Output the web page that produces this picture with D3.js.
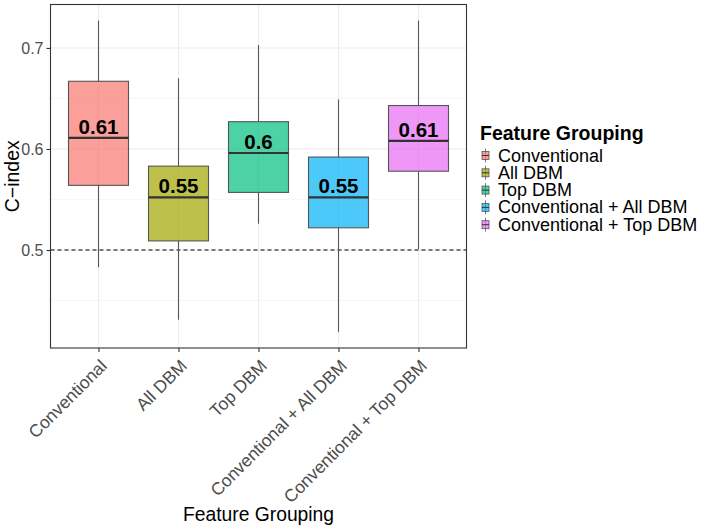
<!DOCTYPE html>
<html>
<head>
<meta charset="utf-8">
<script src="https://cdn.jsdelivr.net/npm/d3@7"></script>
<style>
  body { margin: 0; background: #fff; }
  text { font-family: "Liberation Sans", Arial, sans-serif; }
</style>
</head>
<body>
<script>
// box stats
var groups = ['Conventional', 'All DBM', 'Top DBM', 'Conventional + All DBM', 'Conventional + Top DBM'];
var colors = ['#F8766D', '#A3A500', '#00BF7D', '#00B0F6', '#E76BF3'];
var lowWhisker = [0.483, 0.431, 0.526, 0.419, 0.501];
var q1 = [0.564, 0.509, 0.557, 0.522, 0.578];
var median = [0.611, 0.552, 0.596, 0.552, 0.608];
var q3 = [0.667, 0.583, 0.627, 0.592, 0.643];
var highWhisker = [0.727, 0.670, 0.703, 0.649, 0.727];
var medianLabels = ['0.61', '0.55', '0.6', '0.55', '0.61'];
var yTicks = [0.5, 0.6, 0.7];
var yMinor = [0.45, 0.55, 0.65];

var W = 706, H = 530;
var panel = { left: 50.5, right: 466.5, top: 4.5, bottom: 348 };

var svg = d3.select('body').append('svg').attr('width', W).attr('height', H);

var y = d3.scaleLinear().domain([0.403, 0.743]).range([panel.bottom, panel.top]);
// ggplot-ish discrete scale: positions 1..5 with 0.6 padding
var x = d3.scaleLinear().domain([0.4, groups.length + 0.6]).range([panel.left, panel.right]);
var boxW = x(0.75) - x(0);

var pw = panel.right - panel.left;

// grid
svg.selectAll('.minor').data(yMinor).enter().append('line')
  .attr('x1', panel.left).attr('x2', panel.right)
  .attr('y1', function(d) { return y(d); }).attr('y2', function(d) { return y(d); })
  .attr('stroke', '#F2F2F2').attr('stroke-width', 0.6);
svg.selectAll('.major').data(yTicks).enter().append('line')
  .attr('x1', panel.left).attr('x2', panel.right)
  .attr('y1', function(d) { return y(d); }).attr('y2', function(d) { return y(d); })
  .attr('stroke', '#EBEBEB').attr('stroke-width', 1.1);
svg.selectAll('.vgrid').data(groups).enter().append('line')
  .attr('x1', function(d, i) { return x(i + 1); }).attr('x2', function(d, i) { return x(i + 1); })
  .attr('y1', panel.top).attr('y2', panel.bottom)
  .attr('stroke', '#EBEBEB').attr('stroke-width', 1.1);

// reference line at 0.5
svg.append('line')
  .attr('x1', panel.left).attr('x2', panel.right)
  .attr('y1', y(0.5)).attr('y2', y(0.5))
  .attr('stroke', '#000').attr('stroke-width', 1.1).attr('stroke-dasharray', '4,3');

var boxes = svg.selectAll('.box').data(groups).enter().append('g');

// whiskers
boxes.append('line')
  .attr('x1', function(d, i) { return x(i + 1); }).attr('x2', function(d, i) { return x(i + 1); })
  .attr('y1', function(d, i) { return y(highWhisker[i]); })
  .attr('y2', function(d, i) { return y(q3[i]); })
  .attr('stroke', '#555').attr('stroke-width', 1.1);
boxes.append('line')
  .attr('x1', function(d, i) { return x(i + 1); }).attr('x2', function(d, i) { return x(i + 1); })
  .attr('y1', function(d, i) { return y(q1[i]); })
  .attr('y2', function(d, i) { return y(lowWhisker[i]); })
  .attr('stroke', '#555').attr('stroke-width', 1.1);

boxes.append('rect')
  .attr('x', function(d, i) { return x(i + 1) - boxW / 2; })
  .attr('width', boxW)
  .attr('y', function(d, i) { return y(q3[i]); })
  .attr('height', function(d, i) { return y(q1[i]) - y(q3[i]); })
  .attr('fill', function(d, i) { return colors[i]; })
  .attr('fill-opacity', 0.7)
  .attr('stroke', '#555').attr('stroke-width', 1.1);

boxes.append('line')
  .attr('x1', function(d, i) { return x(i + 1) - boxW / 2; })
  .attr('x2', function(d, i) { return x(i + 1) + boxW / 2; })
  .attr('y1', function(d, i) { return y(median[i]); })
  .attr('y2', function(d, i) { return y(median[i]); })
  .attr('stroke', '#333').attr('stroke-width', 2.2);

boxes.append('text')
  .attr('x', function(d, i) { return x(i + 1); })
  .attr('y', function(d, i) { return y(median[i]) - 4; })
  .attr('text-anchor', 'middle')
  .attr('font-size', 20.5).attr('font-weight', 'bold').attr('fill', '#000')
  .text(function(d, i) { return medianLabels[i]; });

// panel border
svg.append('rect')
  .attr('x', panel.left).attr('y', panel.top)
  .attr('width', pw).attr('height', panel.bottom - panel.top)
  .attr('fill', 'none').attr('stroke', '#333').attr('stroke-width', 1.1);

// y axis
var yAxis = svg.append('g').attr('transform', 'translate(' + panel.left + ',0)')
  .call(d3.axisLeft(y).tickValues(yTicks).tickSize(4).tickPadding(3).tickFormat(d3.format('.1f')));
yAxis.select('.domain').remove();
yAxis.selectAll('line').attr('stroke', '#333').attr('stroke-width', 1.1);
yAxis.selectAll('text').attr('font-size', 16).attr('fill', '#4D4D4D')
  .style('font-family', '"Liberation Sans", Arial, sans-serif');

// x axis
var xAxis = svg.append('g').attr('transform', 'translate(0,' + panel.bottom + ')')
  .call(d3.axisBottom(x).tickValues(d3.range(1, groups.length + 1)).tickSize(4)
    .tickFormat(function(d) { return groups[d - 1]; }));
xAxis.select('.domain').remove();
xAxis.selectAll('line').attr('stroke', '#333').attr('stroke-width', 1.1);
xAxis.selectAll('text')
  .attr('font-size', 17.5).attr('fill', '#4D4D4D')
  .style('font-family', '"Liberation Sans", Arial, sans-serif')
  .attr('text-anchor', 'end')
  .attr('dy', null).attr('y', 0)
  .attr('transform', 'translate(9,19) rotate(-45)');

// axis titles
svg.append('text')
  .attr('x', (panel.left + panel.right) / 2).attr('y', 521)
  .attr('text-anchor', 'middle').attr('font-size', 19.3)
  .text('Feature Grouping');
svg.append('text')
  .attr('transform', 'translate(19,' + (panel.top + panel.bottom) / 2 + ') rotate(-90)')
  .attr('text-anchor', 'middle').attr('font-size', 19.5)
  .text('C\u2212index');

// legend
var legend = svg.append('g').attr('transform', 'translate(480,0)');
legend.append('text').attr('x', 0).attr('y', 140)
  .attr('font-size', 19.5).attr('font-weight', 'bold').text('Feature Grouping');
var items = legend.selectAll('.item').data(groups).enter().append('g')
  .attr('transform', function(d, i) { return 'translate(0,' + (155.5 + i * 17.3) + ')'; });
items.append('line')
  .attr('x1', 5.5).attr('x2', 5.5).attr('y1', -7).attr('y2', 7)
  .attr('stroke', '#555').attr('stroke-width', 0.8);
items.append('rect')
  .attr('x', 2).attr('y', -4).attr('width', 7).attr('height', 8)
  .attr('fill', function(d, i) { return colors[i]; }).attr('fill-opacity', 0.7)
  .attr('stroke', '#555').attr('stroke-width', 0.8);
items.append('line')
  .attr('x1', 2).attr('x2', 9).attr('y1', 0).attr('y2', 0)
  .attr('stroke', '#333').attr('stroke-width', 1);
items.append('text')
  .attr('x', 18).attr('y', 6)
  .attr('font-size', 18).attr('fill', '#000')
  .text(function(d) { return d; });
</script>
</body>
</html>
